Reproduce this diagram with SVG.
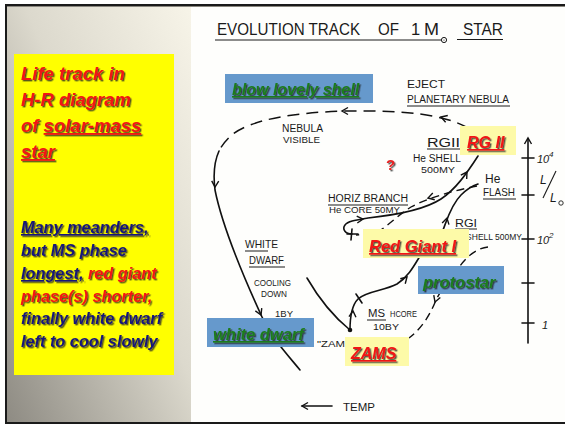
<svg xmlns="http://www.w3.org/2000/svg" xmlns:xlink="http://www.w3.org/1999/xlink" width="565" height="426" viewBox="0 0 565 426">
<defs>
<linearGradient id="lp" x1="0" y1="1" x2="1" y2="0">
<stop offset="0" stop-color="#8e8b83"/>
<stop offset="0.55" stop-color="#dcd9cd"/>
<stop offset="1" stop-color="#f7f4e8"/>
</linearGradient>
<filter id="sh" x="-10%" y="-30%" width="125%" height="170%">
<feDropShadow dx="1.4" dy="1.4" stdDeviation="0.7" flood-color="#222" flood-opacity="0.75"/>
</filter>
<path id="ah" d="M-6,-3.5 L0,0 L-6,3.5" fill="none" stroke="#111" stroke-width="1.4" stroke-linejoin="miter"/>
<style>
.big{font-family:"Liberation Sans",Arial,sans-serif;font-weight:bold;font-style:italic;filter:url(#sh)}
.red{fill:#f01414}
.navy{fill:#17177a}
.grn{fill:#1e7b1e}
.hw{font-family:"Liberation Sans",Arial,sans-serif;fill:#1a1a1a}
.ln{fill:none;stroke:#111;stroke-width:1.6;stroke-linecap:round}
.dsh{fill:none;stroke:#111;stroke-width:1.5;stroke-dasharray:12 7}
.dsh2{fill:none;stroke:#111;stroke-width:1.4;stroke-dasharray:8 5}
.ul{stroke:#1a1a1a;stroke-width:1}
.bbox{fill:#6699cc}
.ybox{fill:#fdfaa8}
</style>
</defs>

<!-- frame / panels -->
<rect x="0" y="0" width="565" height="426" fill="#ffffff"/>
<rect x="5" y="4" width="560" height="420" fill="#1a1a1a"/>
<rect x="7" y="6" width="558" height="416" fill="#8a877f"/>
<rect x="7" y="7" width="184" height="415" fill="url(#lp)"/>
<rect x="191" y="7" width="374" height="415" fill="#fefefc"/>

<!-- left text panel -->
<g id="left-panel">
<rect x="14" y="54" width="160" height="321" fill="#ffff00"/>
<g class="big" font-size="18.5">
<text x="21" y="80" class="red">Life track in</text>
<text x="21" y="106" class="red">H-R diagram</text>
<text x="21" y="132" class="red">of <tspan text-decoration="underline">solar-mass</tspan></text>
<text x="21" y="158" class="red" text-decoration="underline">star</text>
</g>
<g class="big" font-size="16.3">
<text x="21" y="233" class="navy" text-decoration="underline">Many meanders,</text>
<text x="21" y="256" class="navy">but MS phase</text>
<text x="21" y="279" class="navy"><tspan text-decoration="underline">longest,</tspan> <tspan class="red">red giant</tspan></text>
<text x="21" y="302" class="red">phase(s) shorter,</text>
<text x="21" y="324" class="navy">finally white dwarf</text>
<text x="21" y="347" class="navy">left to cool slowly</text>
</g>
</g>

<!-- title -->
<g id="title" class="hw" font-size="16.5">
<text x="217" y="35" textLength="143" lengthAdjust="spacingAndGlyphs">EVOLUTION TRACK</text>
<text x="378" y="35" textLength="21" lengthAdjust="spacingAndGlyphs">OF</text>
<text x="411" y="35">1</text>
<text x="424" y="35" textLength="15" lengthAdjust="spacingAndGlyphs">M</text>
<text x="463" y="35" textLength="40" lengthAdjust="spacingAndGlyphs">STAR</text>
<line class="ul" x1="215" y1="40" x2="441" y2="40"/>
<line class="ul" x1="457" y1="39.5" x2="503" y2="39.5"/>
<circle cx="444" cy="40" r="2.6" fill="none" stroke="#1a1a1a" stroke-width="1"/>
<circle cx="444" cy="40" r="0.6" fill="#1a1a1a"/>
</g>

<!-- connectors -->
<g id="connectors">
<!-- top dashed + left descent -->
<path class="dsh" d="M468,128 C446,115 405,110 350,111 C292,112 252,120 233,134 C227,139 222,145 219,151"/>
<path class="ln" d="M219,151 C214,162 213,174 215,190 C222,225 245,280 262,317 C272,338 286,353 300,370"/>
<use xlink:href="#ah" transform="translate(441,117) rotate(198)"/>
<use xlink:href="#ah" transform="translate(342,111) rotate(180)"/>
<use xlink:href="#ah" transform="translate(215,187) rotate(92)"/>
<use xlink:href="#ah" transform="translate(261,315) rotate(66)"/>
<!-- cooling line into ZAMS -->
<path class="ln" d="M307,278 C318,297 334,317 350,330"/>
<circle cx="350" cy="330" r="2.3" fill="#111"/>
<!-- MS + RG I track -->
<path class="ln" d="M350,330 C350,318 351,306 358,299 C366,291 384,291 397,284 C408,277 414,266 420,256 C428,244 438,236 443,230 C447,220 451,205 461,195 C467,189 472,186 478,184"/>
<path class="ln" d="M356,294 L362,303"/>
<use xlink:href="#ah" transform="translate(353,311) rotate(-85)"/>
<use xlink:href="#ah" transform="translate(407,277) rotate(-45)"/>
<use xlink:href="#ah" transform="translate(447,218) rotate(-76)"/>
<!-- horizontal branch dashed -->
<path class="dsh2" d="M477,186 C452,191 428,198 411,207 C397,216 388,226 376,233 L356,235"/>
<use xlink:href="#ah" transform="translate(428,198) rotate(164)"/>
<!-- horizontal branch solid loop -->
<path class="ln" d="M352,234 C345,234 342,229 345,225 C348,221 356,220 368,218 C396,215 424,210 441,199 C456,189 467,173 478,156"/>
<path class="ln" d="M347,234 L358,234 M352,229 L351,240"/>
<use xlink:href="#ah" transform="translate(363,219) rotate(-5)"/>
<use xlink:href="#ah" transform="translate(467,172) rotate(-57)"/>
<!-- protostar dashed -->
<path class="dsh2" d="M488,247 C478,248 468,255 460,266 C450,278 441,290 436,300 C430,315 422,328 409,338"/>
<use xlink:href="#ah" transform="translate(435,302) rotate(110)"/>
<!-- TEMP arrow -->
<path class="ln" d="M302,406 L332,406"/>
<use xlink:href="#ah" transform="translate(302,406) rotate(180)"/>
</g>

<!-- luminosity axis -->
<g id="axis">
<path class="ln" d="M528,139 L528,343"/>
<use xlink:href="#ah" transform="translate(528,138) rotate(-90)"/>
<path class="ln" d="M522,158 L534,158 M522,195 L534,195 M522,239 L534,239 M522,283 L534,283 M522,323 L534,323"/>
<g class="hw" font-style="italic">
<text x="537" y="163" font-size="11">10</text>
<text x="549" y="157" font-size="8">4</text>
<text x="537" y="244" font-size="11">10</text>
<text x="549" y="238" font-size="8">2</text>
<text x="542" y="329" font-size="11">1</text>
<text x="540" y="184" font-size="12">L</text>
<text x="550" y="202" font-size="12">L</text>
</g>
<path d="M543,198 L556,171" stroke="#1a1a1a" stroke-width="1.1"/>
<circle cx="561" cy="203" r="2.2" fill="none" stroke="#1a1a1a" stroke-width="0.9"/>
</g>

<!-- handwritten labels -->
<g id="labels" class="hw">
<text x="407" y="88" font-size="10.5" textLength="38" lengthAdjust="spacingAndGlyphs">EJECT</text>
<text x="407" y="103" font-size="10" textLength="102" lengthAdjust="spacingAndGlyphs">PLANETARY NEBULA</text>
<line class="ul" x1="407" y1="106" x2="510" y2="106"/>
<text x="282" y="132" font-size="10" textLength="41" lengthAdjust="spacingAndGlyphs">NEBULA</text>
<text x="283" y="143" font-size="9.5" textLength="37" lengthAdjust="spacingAndGlyphs">VISIBLE</text>
<text x="245" y="248" font-size="10.5" textLength="33" lengthAdjust="spacingAndGlyphs">WHITE</text>
<line class="ul" x1="245" y1="251" x2="268" y2="251"/>
<text x="249" y="264" font-size="10.5" textLength="35" lengthAdjust="spacingAndGlyphs">DWARF</text>
<line class="ul" x1="249" y1="267" x2="285" y2="267"/>
<text x="254" y="286" font-size="8.5" textLength="37" lengthAdjust="spacingAndGlyphs">COOLING</text>
<text x="261" y="297" font-size="8.5" textLength="26" lengthAdjust="spacingAndGlyphs">DOWN</text>
<text x="275" y="317" font-size="9" textLength="18" lengthAdjust="spacingAndGlyphs">1BY</text>
<text x="317" y="347" font-size="9.5" textLength="28" lengthAdjust="spacingAndGlyphs">"ZAM</text>
<text x="328" y="202" font-size="10" textLength="80" lengthAdjust="spacingAndGlyphs">HORIZ BRANCH</text>
<line class="ul" x1="328" y1="205" x2="408" y2="205"/>
<text x="329" y="213" font-size="9" textLength="71" lengthAdjust="spacingAndGlyphs">He CORE 50MY</text>
<text x="427" y="147" font-size="12" textLength="33" lengthAdjust="spacingAndGlyphs">RGII</text>
<line class="ul" x1="427" y1="149" x2="460" y2="149"/>
<text x="413" y="162" font-size="10" textLength="48" lengthAdjust="spacingAndGlyphs">He SHELL</text>
<text x="421" y="173" font-size="9.5" textLength="34" lengthAdjust="spacingAndGlyphs">500MY</text>
<text x="485" y="183" font-size="12">He</text>
<text x="483" y="196" font-size="10.5" textLength="32" lengthAdjust="spacingAndGlyphs">FLASH</text>
<line class="ul" x1="483" y1="199" x2="516" y2="199"/>
<text x="455" y="227" font-size="11" textLength="22" lengthAdjust="spacingAndGlyphs">RGI</text>
<line class="ul" x1="455" y1="229" x2="477" y2="229"/>
<text x="522" y="240" font-size="8.5" text-anchor="end">SHELL 500MY</text>
<text x="368" y="317" font-size="10" textLength="17" lengthAdjust="spacingAndGlyphs">MS</text>
<line class="ul" x1="367" y1="320" x2="386" y2="320"/>
<text x="390" y="317" font-size="9" textLength="27" lengthAdjust="spacingAndGlyphs">HCORE</text>
<text x="373" y="330" font-size="9.5" textLength="26" lengthAdjust="spacingAndGlyphs">10BY</text>
<text x="343" y="411" font-size="11" textLength="32" lengthAdjust="spacingAndGlyphs">TEMP</text>
<text x="386" y="170" font-size="15" font-weight="bold" fill="#e82020" font-family="Liberation Sans, sans-serif" filter="url(#sh)">?</text>
</g>

<!-- highlighted node labels -->
<g id="blow-lovely-shell">
<rect class="bbox" x="225" y="74" width="148" height="29"/>
<text class="big grn" x="232" y="95" font-size="16" text-decoration="underline">blow lovely shell</text>
</g>
<g id="rg2">
<rect class="ybox" x="460" y="126" width="56" height="29"/>
<text class="big red" x="467" y="148" font-size="16" text-decoration="underline">RG II</text>
</g>
<g id="red-giant-1">
<rect class="ybox" x="363" y="229" width="106" height="29"/>
<text class="big red" x="369" y="252" font-size="16.5" text-decoration="underline">Red Giant I</text>
</g>
<g id="protostar">
<rect class="bbox" x="418" y="266" width="86" height="28"/>
<text class="big grn" x="423" y="288" font-size="16.5">protostar</text>
</g>
<g id="white-dwarf">
<rect class="bbox" x="207" y="318" width="107" height="29"/>
<text class="big grn" x="213" y="340" font-size="16.5" text-decoration="underline">white dwarf</text>
</g>
<g id="zams">
<rect class="ybox" x="345" y="337" width="64" height="29"/>
<text class="big red" x="351" y="359" font-size="16" text-decoration="underline">ZAMS</text>
</g>
</svg>
